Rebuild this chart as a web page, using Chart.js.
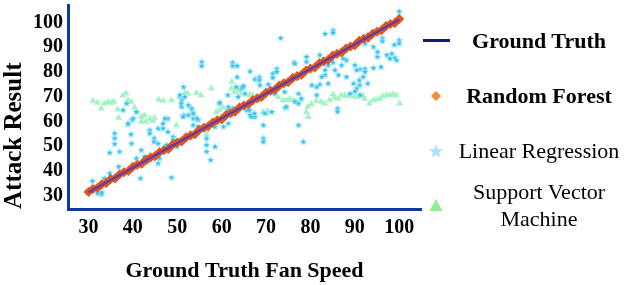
<!DOCTYPE html>
<html><head><meta charset="utf-8">
<script src="https://cdn.jsdelivr.net/npm/chart.js@4/dist/chart.umd.min.js"></script>
<style>
html,body{margin:0;padding:0;background:#fff;}
#wrap{position:relative;width:626px;height:285px;overflow:hidden;}
#c{position:absolute;left:0;top:0;}
.leg{position:absolute;left:449px;width:180px;text-align:center;font-family:"Liberation Serif","Times New Roman",serif;font-size:22px;line-height:25px;color:#000;white-space:nowrap;}
.mk{position:absolute;}
</style></head><body>
<div id="wrap">
<canvas id="c" width="626" height="285"></canvas>
<div class="mk" style="left:423px;top:39px;width:27px;height:3px;background:#101A6E"></div>
<svg class="mk" style="left:426px;top:86px" width="20" height="20"><polygon points="10,5 15,10 10,15 5,10" fill="#F08A3C"/></svg>
<svg class="mk" style="left:426px;top:141px" width="20" height="20"><polygon id="legstar" fill="#B2E2FA"/></svg>
<svg class="mk" style="left:426px;top:195px" width="20" height="20"><polygon points="10,4 16.5,16 3.5,16" fill="#90EE90"/></svg>
<div class="leg" id="l0" style="top:27.5px;font-weight:bold"></div>
<div class="leg" id="l1" style="top:83px;font-weight:bold"></div>
<div class="leg" id="l2" style="top:137.5px"></div>
<div class="leg" id="l3" style="top:179px;line-height:26.5px"></div>
</div>
<script>
// ---- data ----
const xTicks = [30, 40, 50, 60, 70, 80, 90, 100];
const yTicks = [30, 40, 50, 60, 70, 80, 90, 100];
const seriesNames = ['Ground Truth', 'Random Forest', 'Linear Regression', 'Support Vector Machine'];
const xAxisTitle = 'Ground Truth Fan Speed';
const yAxisTitle = 'Attack Result';

const groundTruth = [[30, 30], [100, 100]];

const randomForest = [
  [30,30.2],[31,31.4],[32,31.8],[33,33.3],[34,33.8],[35,35.4],[36,35.7],[37,37.3],[38,38.2],[39,38.7],
  [40,40.4],[41,41.2],[42,41.6],[43,43.3],[44,44.2],[45,44.7],[46,46.3],[47,47.1],[48,47.6],[49,49.4],
  [50,50.2],[51,50.7],[52,52.3],[53,53.1],[54,53.6],[55,55.4],[56,56.2],[57,56.8],[58,58.3],[59,59.2],
  [60,59.6],[61,61.3],[62,62.1],[63,62.7],[64,64.4],[65,65.2],[66,65.7],[67,67.3],[68,68.1],[69,68.7],
  [70,70.4],[71,71.2],[72,71.6],[73,73.3],[74,74.2],[75,74.7],[76,76.3],[77,77.1],[78,77.7],[79,79.4],
  [80,80.2],[81,80.6],[82,82.3],[83,83.1],[84,83.7],[85,85.4],[86,86.2],[87,86.7],[88,88.3],[89,89.1],
  [90,89.6],[91,91.4],[92,92.2],[93,92.7],[94,94.3],[95,95.1],[96,95.7],[97,97.4],[98,98.2],[99,98.6],
  [100,100.3]
];

const linearRegression = [
  [35.9,53.9],[35.9,51.9],[35.9,49.6],[34.8,46.1],[37.0,46.5],[39.6,53.5],[38.9,57.6],[39.8,59.3],
  [43.8,55.2],[43.8,53.9],[44.8,51.9],[44.8,50.5],[45.7,55.9],[46.8,57.9],[46.8,55.9],[47.9,54.5],
  [47.9,59.9],[47.2,59.9],[41.9,47.1],[40.8,43.8],[42.6,44.4],[43.4,42.4],[41.7,35.7],[36.8,40.4],
  [34.8,37.7],[33.6,35.7],[30.9,34.6],[32.0,32.3],[32.9,29.2],[32.1,29.6],[33.0,30.0],[48.7,36.0],
  [45.7,41.8],[46.0,43.8],[47.5,48.5],[39.7,49.8],[45.7,49.8],[47.6,49.2],[49.1,52.5],[49.1,51.2],
  [49.9,48.5],
  [51.4,61.3],[52.5,61.3],[53.6,59.9],[54.7,59.3],[53.6,57.2],[54.7,56.6],[56.6,51.9],[56.6,49.2],
  [56.6,46.5],[57.5,43.1],[58.5,48.5],[58.5,56.6],[60.4,56.6],[61.5,57.9],[60.4,59.9],[61.5,63.3],
  [62.6,63.3],[65.6,63.3],[66.4,61.3],[67.5,60.6],[69.4,57.2],[69.4,51.9],[69.4,50.5],[71.3,62.6],
  [74.3,64.3],[77.3,57.2],[78.4,50.5],[86.1,64.0],[86.1,62.7],
  [50.6,69.4],[51.0,67.3],[51.7,68.7],[51.0,64.6],[53.2,64.0],[53.6,62.0],[54.4,60.0],[40.1,60.0],
  [37.8,63.3],[38.6,66.0],[38.9,57.9],[40.8,62.6],[51.3,60.6],[50.9,66.0],[59.5,66.0],[61.4,69.4],
  [62.2,62.0],[62.6,64.0],[63.3,72.7],[63.7,68.7],[64.8,72.7],[66.3,63.3],[66.7,60.6],[67.4,62.0],
  [69.7,62.0],[71.2,70.7],[71.9,70.0],[74.2,70.7],[74.6,64.7],[91.1,73.4],[92.9,74.1],
  [55.5,82.8],[55.5,81.2],[62.5,82.6],[62.5,81.2],[63.5,81.2],[66.4,79.0],[67.5,75.8],[68.5,76.7],
  [68.5,75.4],[63.5,76.7],[64.5,72.1],[64.9,73.1],[65.3,70.0],[68.6,73.4],[70.5,73.7],[71.5,78.1],
  [71.5,76.4],[72.4,80.1],[72.4,78.8],[73.3,92.5],[76.3,82.6],[59.6,66.4],[61.5,64.6],
  [51.4,72.7],[52.5,65.3],
  [100.0,103.3],[85.1,95.6],[85.1,94.6],[83.3,94.2],[79.1,84.9],[79.1,82.9],[82.1,85.6],[92.3,90.3],
  [92.9,93.9],[96.2,92.5],[96.2,91.2],[98.9,89.8],[100.0,91.6],[100.0,90.3],[94.2,88.9],[95.1,86.9],
  [95.1,84.9],[97.2,85.6],[98.3,86.2],[99.0,84.5],[97.9,84.2],[99.4,83.5],[95.9,80.8],[94.2,80.4],
  [92.3,80.1],[91.2,79.9],[90.0,81.5],[88.1,83.5],[87.4,84.2],[87.0,81.5],[85.1,82.6],[84.0,81.5],
  [83.3,79.5],[85.5,79.5],[83.3,77.5],[86.3,77.5],[88.1,76.8],[90.4,79.5],[92.3,78.8],[91.9,76.8],
  [91.0,75.4],[89.7,74.1],[90.4,72.1],[88.9,70.0],[90.0,70.9],[91.2,69.4],[84.0,74.1],[82.1,73.7],
  [81.4,72.7],[80.3,73.4],[77.3,70.0],[81.4,69.4],[76.5,66.7],[77.3,66.0],[78.0,68.0],[82.5,76.8],
  [76.5,82.2]
];

const supportVector = [
  [31.0,67.1],[32.0,66.3],[32.9,64.0],[33.6,66.0],[34.4,66.7],[35.1,66.3],[35.7,66.7],[36.6,63.6],
  [36.8,60.3],[37.8,69.4],[38.5,70.1],[38.9,67.3],[39.6,66.7],[40.4,64.4],[40.8,62.6],[41.9,60.6],
  [42.6,61.3],[43.0,58.6],[43.8,59.9],[44.5,59.0],[44.9,60.3],[45.8,67.6],[46.8,67.1],[48.7,67.3],
  [49.8,57.2],[50.5,68.7],[51.7,70.3],[52.4,70.1],[53.5,63.3],[54.3,70.3],[55.4,69.4],[56.5,55.2],
  [57.7,72.1],[58.8,62.6],[59.5,63.3],[60.3,64.4],[61.0,62.0],[62.2,72.1],[62.3,74.8],[62.9,70.7],
  [63.7,71.4],[64.4,70.1],[66.3,69.4],[67.0,69.4],[68.2,67.3],[69.3,62.6],[70.1,62.0],[70.4,63.0],
  [72.7,68.7],[73.8,67.3],[74.6,67.3],[75.3,68.0],[76.1,67.3],[76.8,66.7],[77.6,67.3],[79.1,62.6],
  [79.4,64.7],[80.2,65.7],[81.3,67.1],[82.4,66.7],[83.2,66.0],[84.3,67.3],[85.1,69.8],[85.4,68.4],
  [86.2,68.0],[86.9,69.4],[87.7,69.4],[88.4,69.0],[89.6,69.0],[90.3,68.7],[91.1,69.0],[91.8,69.4],
  [92.2,68.0],[93.3,66.0],[94.1,67.3],[94.8,67.6],[95.6,68.0],[96.3,69.0],[97.1,69.4],[97.8,69.4],
  [98.6,69.8],[99.3,69.4],[100.1,66.0],[56.6,53.5],[53.6,61.9],[79.5,60.6],[41.9,58.6]
];

// ---- legend text ----
document.getElementById('l0').textContent = seriesNames[0];
document.getElementById('l1').textContent = seriesNames[1];
document.getElementById('l2').textContent = seriesNames[2];
document.getElementById('l3').innerHTML = 'Support Vector<br>Machine';

function starPts(cx, cy, ro, ri) {
  const p = [];
  for (let i = 0; i < 10; i++) {
    const r = i % 2 ? ri : ro;
    const a = -Math.PI / 2 + i * Math.PI / 5;
    p.push((cx + r * Math.cos(a)).toFixed(2) + ',' + (cy + r * Math.sin(a)).toFixed(2));
  }
  return p.join(' ');
}
document.getElementById('legstar').setAttribute('points', starPts(10, 10.5, 7.5, 3.2));

function makeStar(size, ro, ri, fill, halo) {
  const c = document.createElement('canvas');
  c.width = c.height = size;
  const g = c.getContext('2d');
  g.beginPath();
  for (let i = 0; i < 10; i++) {
    const r = i % 2 ? ri : ro;
    const a = -Math.PI / 2 + i * Math.PI / 5;
    g.lineTo(size / 2 + r * Math.cos(a), size / 2 + r * Math.sin(a));
  }
  g.closePath();
  g.strokeStyle = halo; g.lineWidth = 1.4; g.stroke();
  g.fillStyle = fill; g.fill();
  return c;
}
const starImg = makeStar(8, 2.9, 1.3, '#2CC2F2', 'rgba(170,230,250,0.7)');

const toXY = arr => arr.map(([x, y]) => ({x, y}));
const serif = '"Liberation Serif","Times New Roman",serif';

new Chart(document.getElementById('c'), {
  type: 'scatter',
  data: {
    datasets: [
      {label: seriesNames[0], data: toXY(groundTruth), showLine: true, borderColor: '#6B3AA0', borderWidth: 2.5, pointRadius: 0, order: 0},
      {label: seriesNames[1], data: toXY(randomForest), pointStyle: 'rectRot', pointRadius: 4.8, backgroundColor: '#E0581C', borderColor: '#D24F16', borderWidth: 0.5, order: 1},
      {label: seriesNames[2], data: toXY(linearRegression), pointStyle: starImg, pointRadius: 3, order: 2},
      {label: seriesNames[3], data: toXY(supportVector), pointStyle: 'triangle', pointRadius: 4, backgroundColor: '#A2F4C2', borderColor: '#A2F4C2', borderWidth: 0, order: 3}
    ]
  },
  options: {
    responsive: false,
    animation: false,
    events: [],
    layout: {padding: {left: 0, right: 205, top: 5, bottom: 0}},
    plugins: {legend: {display: false}, tooltip: {enabled: false}},
    scales: {
      x: {
        type: 'linear', min: 25.4, max: 104.9,
        afterBuildTicks: s => { s.ticks = xTicks.map(v => ({value: v})); },
        afterFit: s => { s.height = 76; s.paddingLeft = 0; s.paddingRight = 0; },
        grid: {display: false, drawTicks: false, tickLength: 0},
        border: {display: true, color: '#1238A0', width: 3},
        ticks: {padding: 7, color: '#000', font: {family: serif, size: 20, weight: 'bold'}, maxRotation: 0},
        title: {display: true, text: xAxisTitle, color: '#000', font: {family: serif, size: 22, weight: 'bold'}, padding: {top: 0, bottom: 0}}
      },
      y: {
        type: 'linear', min: 23.3, max: 105.8,
        afterBuildTicks: s => { s.ticks = yTicks.map(v => ({value: v})); },
        afterFit: s => { s.width = 68; s.paddingTop = 0; s.paddingBottom = 0; },
        grid: {display: false, drawTicks: false, tickLength: 0},
        border: {display: true, color: '#1238A0', width: 3},
        ticks: {padding: 5, labelOffset: 3, color: '#000', font: {family: serif, size: 20, weight: 'bold'}},
        title: {display: true, text: yAxisTitle, align: 'start', color: '#000', font: {family: serif, size: 25, weight: 'bold'}, padding: {top: 0, bottom: 0}}
      }
    }
  }
});
</script>
</body></html>
